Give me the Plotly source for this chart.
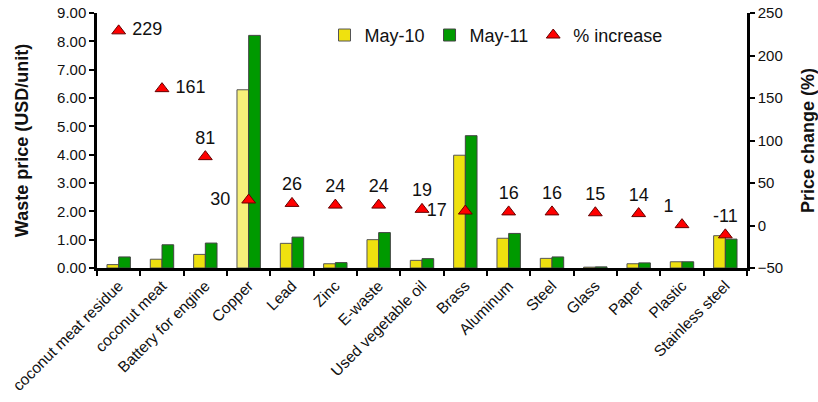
import plotly.graph_objects as go

categories = ["coconut meat residue", "coconut meat", "Battery for engine", "Copper", "Lead", "Zinc",
              "E-waste", "Used vegetable oil", "Brass", "Aluminum", "Steel", "Glass", "Paper",
              "Plastic", "Stainless steel"]
may10 = [0.12, 0.31, 0.48, 6.29, 0.87, 0.15, 1.00, 0.27, 3.98, 1.05, 0.34, 0.03, 0.15, 0.22, 1.14]
may11 = [0.39, 0.82, 0.88, 8.21, 1.09, 0.19, 1.25, 0.33, 4.67, 1.22, 0.39, 0.04, 0.18, 0.22, 1.02]
pct = [229, 161, 81, 30, 26, 24, 24, 19, 17, 16, 16, 15, 14, 1, -11]
pct_labels = [" 229", " 161", "81", "30  ", "26", "24", "24", "19", "17  ", "16", "16", "15", "14", "1", "-11"]
label_pos = ["middle right", "middle right", "top center", "middle left", "top center", "top center",
             "top center", "top center", "middle left", "top center", "top center", "top center",
             "top center", "top left", "top center"]

FONT = "Liberation Sans, Arial, sans-serif"
yellow_colors = ["#F7F07A" if c == "Copper" else "#EFE10F" for c in categories]

fig = go.Figure()
fig.add_trace(go.Bar(name="May-10", x=categories, y=may10,
                     marker=dict(color=yellow_colors, line=dict(color="#555555", width=1))))
fig.add_trace(go.Bar(name="May-11", x=categories, y=may11,
                     marker=dict(color="#009A00", line=dict(color="#444444", width=1))))
fig.add_trace(go.Scatter(name="% increase", x=categories, y=pct, yaxis="y2", mode="markers+text",
                         text=pct_labels, textposition=label_pos,
                         textfont=dict(family=FONT, size=18, color="#111111"),
                         marker=dict(symbol="triangle-up", size=12, color="#FF0000",
                                     line=dict(color="#660000", width=1))))

fig.update_layout(
    width=818, height=402,
    margin=dict(l=97, r=71, t=13, b=134),
    paper_bgcolor="white", plot_bgcolor="white",
    font=dict(family=FONT, size=15, color="#111111"),
    barmode="group", bargap=0.46, bargroupgap=0,
    showlegend=True,
    legend=dict(orientation="h", x=0.35, y=0.985, xanchor="left", yanchor="top",
                font=dict(family=FONT, size=18), bgcolor="rgba(0,0,0,0)",
                itemwidth=30, tracegroupgap=0),
    xaxis=dict(type="category", tickmode="array", tickvals=categories, ticktext=categories,
               tickangle=-45, tickfont=dict(family=FONT, size=15.5),
               ticks="outside", tickson="boundaries", ticklen=5, tickwidth=2, tickcolor="black",
               showline=True, linecolor="black", linewidth=2.5, showgrid=False,
               range=[-0.5, 14.5], automargin=False),
    yaxis=dict(range=[0, 9], dtick=1, tickformat=".2f", showgrid=False, zeroline=False,
               showline=True, linecolor="black", linewidth=2.5, ticks="outside", ticklen=5,
               tickwidth=2, tickcolor="black", tickfont=dict(family=FONT, size=15),
               automargin=False,
               title=dict(text="<b>Waste price (USD/unit)</b>", font=dict(family=FONT, size=18),
                          standoff=24)),
    yaxis2=dict(range=[-50, 250], dtick=50, overlaying="y", side="right", showgrid=False,
                zeroline=False, showline=True, linecolor="black", linewidth=2.5, ticks="outside",
                ticklen=5, tickwidth=2, tickcolor="black", tickfont=dict(family=FONT, size=15),
                automargin=False,
                title=dict(text="<b>Price change (%)</b>", font=dict(family=FONT, size=18),
                           standoff=22)),
)

fig.write_html("out.html")
